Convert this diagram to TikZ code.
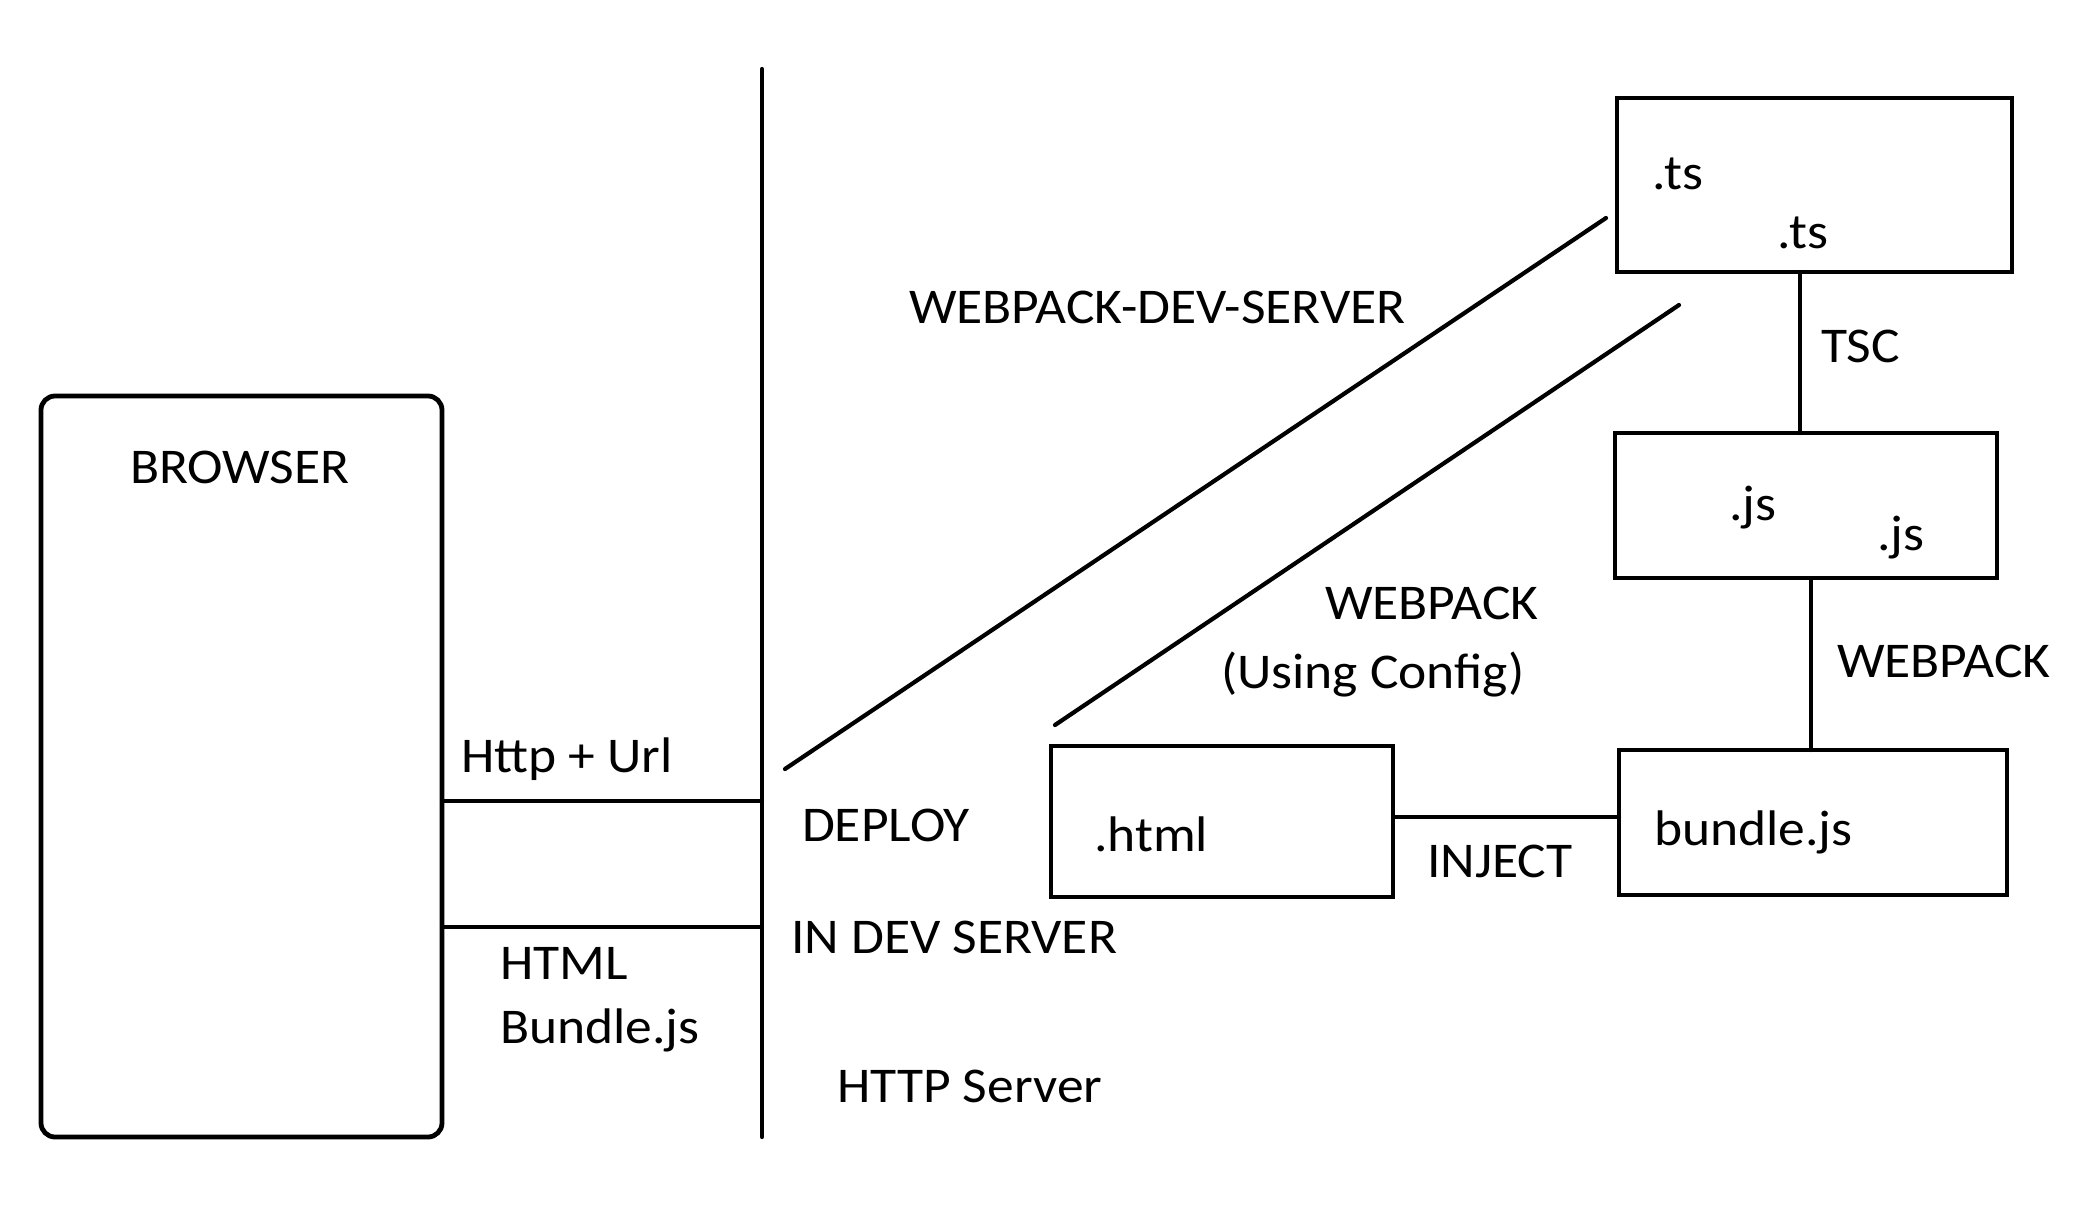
\documentclass[tikz,border=0pt]{standalone}
\usepackage{fontspec}
\setmainfont[FakeStretch=1.07]{Carlito}
\begin{document}
\begin{tikzpicture}[x=0.5pt,y=-0.5pt,
  box/.style={draw, line width=2.4pt, inner sep=0pt, outer sep=0pt},
  ln/.style={line width=2.1pt, line cap=round},
  lbl/.style={anchor=base west, inner sep=0pt, outer sep=0pt, font=\fontsize{25}{29}\selectfont}]
\useasboundingbox[fill=white] (0,0) rectangle (2085,1222);
% boxes
\node[box, rounded corners=7pt, minimum width=200.5pt, minimum height=370.5pt] (browser) at (241.5,766.5) {};
\node[box, minimum width=197.5pt, minimum height=87pt] (ts) at (1814.5,185) {};
\node[box, minimum width=191pt, minimum height=72.5pt] (js) at (1806,505.5) {};
\node[box, minimum width=171pt, minimum height=75.5pt] (html) at (1222,821.5) {};
\node[box, minimum width=194pt, minimum height=72.5pt] (bundle) at (1813,822.5) {};
% divider
\coordinate (dtop) at (762,69);
\coordinate (dbot) at (762,1137);
\draw[ln] (dtop) -- (dbot);
\coordinate (h1) at (762,801);
\coordinate (h2) at (762,927);
\draw[ln] (browser.east |- h1) -- (h1);
\draw[ln] (browser.east |- h2) -- (h2);
% vertical connectors
\coordinate (tscx) at (1800,0);
\coordinate (wpx) at (1811,0);
\draw[ln] (ts.south -| tscx) -- (js.north -| tscx);
\draw[ln] (js.south -| wpx) -- (bundle.north -| wpx);
\coordinate (injy) at (0,817);
\draw[ln] (html.east |- injy) -- (bundle.west |- injy);
% diagonals
\coordinate (d1a) at (785,769);
\coordinate (d1b) at (1606,218);
\coordinate (d2a) at (1055,725);
\coordinate (d2b) at (1679,305);
\draw[ln] (d1a) -- (d1b);
\draw[ln] (d2a) -- (d2b);
% labels
\node[lbl] (tbrowser) at (130,483) {BROWSER};
\node[lbl] (twds) at (909,323) {WEBPACK-DEV-SERVER};
\node[lbl] (tts1) at (1652,189) {.ts};
\node[lbl] (tts2) at (1777,248) {.ts};
\node[lbl] (ttsc) at (1821,362) {TSC};
\node[lbl] (tjs1) at (1729,520) {.js};
\node[lbl] (tjs2) at (1877,550) {.js};
\node[lbl] (twp1) at (1325,619) {WEBPACK};
\node[lbl] (tcfg) at (1221,688) {(Using Config)};
\node[lbl] (twp2) at (1837,677) {WEBPACK};
\node[lbl] (thttp) at (461,772) {Http + Url};
\node[lbl] (tdeploy) at (802,841) {DEPLOY};
\node[lbl] (tindev) at (791,953) {IN DEV SERVER};
\node[lbl] (thtml) at (500,979) {HTML};
\node[lbl] (tbjs) at (500,1043) {Bundle.js};
\node[lbl] (thttps) at (837,1102) {HTTP Server};
\node[lbl] (thtmlf) at (1094,851) {.html};
\node[lbl] (tinject) at (1427,877) {INJECT};
\node[lbl] (tbundle) at (1654,845) {bundle.js};
\end{tikzpicture}
\end{document}
